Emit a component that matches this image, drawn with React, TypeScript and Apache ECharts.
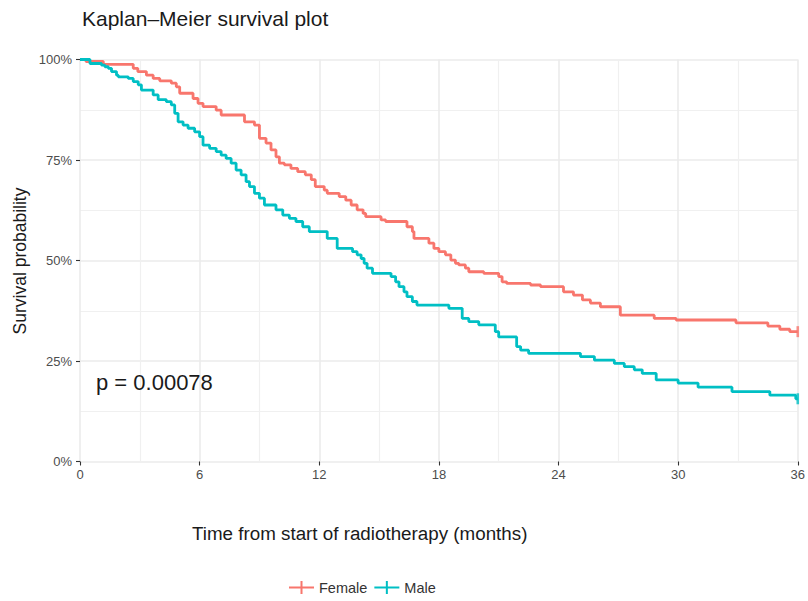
import React, { useEffect, useRef } from "react";
import * as echarts from "echarts";

const seriesNames = ["Female", "Male"];

const femaleTimes = [0, 0.3, 1.17, 2.67, 2.9, 3.33, 3.67, 4.0, 4.58, 4.83, 5.0, 5.67, 5.92, 6.17, 6.83, 7.08, 8.25, 8.75, 9.0, 9.33, 9.58, 9.83, 10.0, 10.25, 10.58, 10.92, 11.3, 11.6, 11.8, 12.25, 12.4, 13.0, 13.33, 13.6, 13.9, 14.2, 14.33, 15.1, 15.33, 16.4, 16.67, 16.75, 17.5, 17.75, 18.0, 18.33, 18.6, 18.83, 19.0, 19.33, 19.5, 20.25, 21.0, 21.17, 21.4, 22.6, 23.1, 24.25, 24.75, 25.2, 25.6, 26.1, 27.1, 28.8, 29.9, 32.9, 34.5, 35.1, 35.6, 36];
const femaleSurv = [100, 99.5, 98.8, 97.8, 97.0, 96.1, 95.3, 94.7, 94.1, 93.2, 91.6, 90.3, 89.1, 88.3, 87.4, 86.2, 84.5, 83.7, 80.4, 79.2, 77.5, 75.8, 74.2, 73.8, 72.9, 72.1, 71.3, 70.1, 68.4, 67.5, 66.7, 65.9, 65.0, 63.8, 62.6, 61.7, 60.9, 60.1, 59.7, 58.4, 57.2, 55.5, 54.3, 53.0, 52.2, 51.4, 50.1, 49.3, 48.9, 48.1, 47.2, 46.8, 46.0, 44.7, 44.3, 43.9, 43.5, 42.2, 41.4, 40.2, 39.4, 38.5, 36.4, 35.6, 35.2, 34.5, 33.7, 32.9, 32.3, 32.3];

const maleTimes = [0, 0.5, 1.08, 1.25, 1.42, 1.58, 1.83, 1.92, 2.42, 2.67, 2.92, 3.08, 3.67, 3.92, 4.33, 4.58, 4.75, 4.92, 5.17, 5.42, 5.75, 6.0, 6.17, 6.5, 6.83, 7.08, 7.33, 7.58, 7.83, 8.08, 8.33, 8.5, 8.75, 9.0, 9.25, 9.83, 10.17, 10.5, 10.83, 11.17, 11.5, 12.4, 12.9, 13.67, 13.9, 14.1, 14.25, 14.4, 14.67, 15.6, 15.83, 16.0, 16.25, 16.4, 16.67, 16.9, 18.5, 19.17, 19.5, 20.0, 20.83, 21.0, 21.9, 22.1, 22.5, 25.1, 25.8, 26.8, 27.3, 27.8, 28.2, 28.9, 30.0, 31.0, 32.7, 34.6, 35.9, 36];
const maleSurv = [100, 99.0, 98.6, 98.2, 97.8, 97.0, 96.1, 95.7, 95.3, 94.5, 93.7, 92.4, 91.2, 90.0, 89.5, 88.7, 86.6, 84.5, 83.7, 82.9, 82.0, 80.8, 78.7, 77.9, 77.1, 76.2, 75.4, 74.2, 72.5, 71.3, 69.6, 68.4, 66.7, 65.5, 63.8, 62.6, 61.3, 60.5, 59.7, 58.4, 57.2, 55.5, 53.0, 52.2, 51.4, 50.5, 49.3, 48.1, 46.8, 46.0, 44.7, 43.5, 42.2, 41.0, 39.8, 38.9, 38.1, 35.6, 34.8, 34.0, 32.3, 31.0, 28.6, 27.7, 26.9, 26.1, 25.2, 24.4, 23.6, 22.8, 21.9, 20.3, 19.5, 18.5, 17.4, 16.5, 15.6, 15.6];

const censorFemale = [[36, 32.3]];
const censorMale = [[36, 15.6]];

const colors = ["#F8766D", "#00BFC4"];
const xTickInterval = 6;
const yTickInterval = 25;
const titleText = "Kaplan\u2013Meier survival plot";
const xName = "Time from start of radiotherapy (months)";
const yName = "Survival probability";
const pText = "p = 0.00078";

const FONT = "'Liberation Sans', Arial, Helvetica, sans-serif";
const plusIcon = "path://M0,5.5h25v2h-25z M11.5,0h2v13h-2z";

function zip(t: number[], v: number[]) {
  return t.map((x, i) => [x, v[i]]);
}

export default function App() {
  const ref = useRef<HTMLDivElement>(null);
  useEffect(() => {
    document.body.style.margin = "0";
    if (!ref.current) return;
    const chart = echarts.init(ref.current, undefined, { renderer: "svg" });
    const lineBase = (name: string, data: number[][], color: string) => ({
      name,
      type: "line",
      step: "end",
      data,
      showSymbol: false,
      symbol: "none",
      clip: false,
      lineStyle: { color, width: 2.8 },
      itemStyle: { color },
      emphasis: { disabled: true },
      z: 3,
    });
    const censor = (name: string, data: number[][], color: string) => ({
      name,
      type: "scatter",
      data,
      symbol: "rect",
      symbolSize: [2.6, 11],
      itemStyle: { color },
      clip: false,
      z: 4,
    });
    chart.setOption({
      animation: false,
      backgroundColor: "#ffffff",
      color: colors,
      grid: { left: 80, right: 8, top: 59.5, bottom: 139.5, containLabel: false },
      legend: {
        data: seriesNames.map((n) => ({ name: n, icon: plusIcon })),
        left: 284,
        top: 575,
        itemWidth: 25,
        itemHeight: 13,
        itemGap: 7,
        textStyle: { fontFamily: FONT, fontSize: 14.5, color: "#333333" },
      },
      xAxis: {
        type: "value",
        min: 0,
        max: 36,
        interval: xTickInterval,
        axisLine: { show: false },
        axisTick: { show: true, length: 4, lineStyle: { color: "#333333", width: 1.1 } },
        axisLabel: { margin: 6, fontFamily: FONT, fontSize: 13, color: "#4d4d4d" },
        splitLine: { show: true, lineStyle: { color: "#ebebeb", width: 1.6 } },
        minorTick: { show: false, splitNumber: 2 },
        minorSplitLine: { show: true, lineStyle: { color: "#f0f0f0", width: 1.2 } },
      },
      yAxis: {
        type: "value",
        min: 0,
        max: 100,
        interval: yTickInterval,
        axisLine: { show: false },
        axisTick: { show: true, length: 4, lineStyle: { color: "#333333", width: 1.1 } },
        axisLabel: {
          margin: 8,
          fontFamily: FONT,
          fontSize: 13,
          color: "#4d4d4d",
          formatter: (v: number) => `${v}%`,
        },
        splitLine: { show: true, lineStyle: { color: "#ebebeb", width: 1.6 } },
        minorTick: { show: false, splitNumber: 2 },
        minorSplitLine: { show: true, lineStyle: { color: "#f0f0f0", width: 1.2 } },
      },
      graphic: [
        {
          type: "text",
          left: 82,
          top: 8,
          z: 100,
          style: { text: titleText, font: `21px ${FONT}`, fill: "#1a1a1a" },
        },
        {
          type: "text",
          x: 192,
          y: 533,
          z: 100,
          style: { text: xName, font: `18.8px ${FONT}`, fill: "#1a1a1a", verticalAlign: "middle", align: "left" },
        },
        {
          type: "text",
          x: 20,
          y: 261,
          z: 100,
          rotation: Math.PI / 2,
          style: { text: yName, font: `17.5px ${FONT}`, fill: "#1a1a1a", verticalAlign: "middle", align: "center" },
        },
        {
          type: "text",
          x: 96,
          y: 382,
          z: 100,
          style: { text: pText, font: `22px ${FONT}`, fill: "#1a1a1a", verticalAlign: "middle", align: "left" },
        },
      ],
      series: [
        lineBase(seriesNames[0], zip(femaleTimes, femaleSurv), colors[0]),
        lineBase(seriesNames[1], zip(maleTimes, maleSurv), colors[1]),
        censor(seriesNames[0], censorFemale, colors[0]),
        censor(seriesNames[1], censorMale, colors[1]),
      ],
    });
    return () => chart.dispose();
  }, []);
  return <div ref={ref} style={{ width: 808, height: 601 }} />;
}
